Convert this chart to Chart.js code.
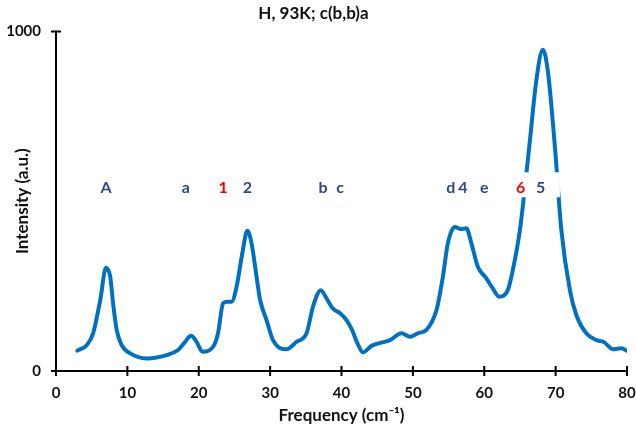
<!DOCTYPE html>
<html><head><meta charset="utf-8">
<script src="https://cdn.jsdelivr.net/npm/chart.js@4.4.0/dist/chart.umd.min.js"></script>
<style>html,body{margin:0;padding:0;background:#fff}#wrap{width:636px;height:430px}</style>
</head><body><div id="wrap"><canvas id="c" width="636" height="430"></canvas></div>
<script>
const freq = [3.0,4.3,5.2,6.2,7.0,7.6,8.0,8.5,9.2,10.4,12.7,14.1,15.5,17.1,18.1,18.9,19.7,20.5,22.0,22.7,23.4,23.9,24.6,25.3,26.1,26.8,27.4,28.1,28.6,29.5,30.4,32.3,33.7,35.1,36.0,37.1,37.9,38.8,39.8,40.7,41.5,42.1,43.0,44.2,46.8,48.4,49.6,50.7,51.9,53.3,54.2,54.9,55.9,56.7,57.5,58.2,59.1,60.3,61.2,62.1,63.3,64.0,65.0,65.7,66.4,67.3,68.2,68.9,69.9,70.8,72.0,72.9,74.3,75.7,76.7,78.1,79.2,80.0];
const intensity = [60,76,111,209,304,277,199,121,76,52,37,40,47,62,86,104,86,57,71,111,199,204,204,248,346,413,376,277,209,150,91,64,86,111,189,238,214,184,170,150,120,88,55,74,91,111,101,111,121,179,277,376,424,418,420,376,307,273,243,219,238,297,415,542,679,856,946,885,660,415,238,165,111,91,86,64,67,60];
const xTicks = [0,10,20,30,40,50,60,70,80];
const yTicks = [0,1000];
const peakLabels = ['A','a','1','2','b','c','d','4','e','6','5'];
const peakLabelX = [7.0,18.2,23.4,26.8,37.4,39.8,55.3,57.0,60.0,65.1,67.9];
const peakLabelColor = ['#2E4A8C','#2E4A8C','#FF0000','#2E4A8C','#2E4A8C','#2E4A8C','#2E4A8C','#2E4A8C','#2E4A8C','#FF0000','#2E4A8C'];
const peakLabelY = 538;

const FONT = 'Lato, "Open Sans", sans-serif';

const crossTicks = {
  id:'crossTicks',
  afterDatasetsDraw(chart){
    const ctx = chart.ctx, xs = chart.scales.x, ys = chart.scales.y;
    ctx.save();
    ctx.fillStyle = '#fff';
    const bx1 = xs.getPixelForValue(64.3), bx2 = xs.getPixelForValue(70.6);
    const by = ys.getPixelForValue(peakLabelY);
    ctx.fillRect(bx1, by-16, bx2-bx1, 25);
    ctx.font = 'bold 16px ' + FONT;
    ctx.textAlign = 'center'; ctx.textBaseline = 'middle';
    peakLabels.forEach((t,i)=>{
      ctx.fillStyle = peakLabelColor[i];
      ctx.fillText(t, xs.getPixelForValue(peakLabelX[i]), by);
    });
    ctx.restore();
  },
  afterDraw(chart){
    const ctx = chart.ctx, xs = chart.scales.x, ys = chart.scales.y;
    const a = chart.chartArea;
    ctx.save();
    ctx.strokeStyle = '#000'; ctx.lineWidth = 2;
    ctx.beginPath();
    ctx.moveTo(a.left, ys.getPixelForValue(1000)); ctx.lineTo(a.left, a.bottom);
    ctx.lineTo(xs.getPixelForValue(80), a.bottom);
    xTicks.forEach(v=>{ const p = xs.getPixelForValue(v); ctx.moveTo(p, a.bottom-5); ctx.lineTo(p, a.bottom+5); });
    yTicks.forEach(v=>{ const p = ys.getPixelForValue(v); ctx.moveTo(a.left-5, p); ctx.lineTo(a.left+5, p); });
    ctx.stroke();
    ctx.restore();
  }
};

new Chart(document.getElementById('c'), {
  type:'line',
  data:{ datasets:[{
    data: freq.map((x,i)=>({x, y:intensity[i]})),
    borderColor:'#0070C0', borderWidth:4, pointRadius:0, fill:false,
    cubicInterpolationMode:'monotone', borderCapStyle:'round', borderJoinStyle:'round'
  }]},
  options:{
    responsive:false, animation:false, devicePixelRatio:1,
    layout:{padding:{left:0,right:9,top:0,bottom:0}},
    plugins:{
      legend:{display:false}, tooltip:{enabled:false},
      title:{display:true, text:'H, 93K; c(b,b)a', color:'#111', font:{family:FONT, size:17, weight:'bold'}, padding:{top:3,bottom:8}}
    },
    scales:{
      x:{ type:'linear', min:0, max:80,
        afterFit(s){ s.height = 59; s.paddingRight = 0; s.paddingLeft = 0; },
        afterBuildTicks(s){ s.ticks = xTicks.map(v=>({value:v})); },
        grid:{display:false, drawTicks:false}, border:{display:false},
        ticks:{color:'#111', padding:13, font:{family:FONT, size:15, weight:'bold'}, maxRotation:0, autoSkip:false, callback:v=>String(v)},
        title:{display:true, text:'Frequency (cm\u207B\u00B9)', color:'#111', font:{family:FONT, size:17, weight:'bold'}, padding:{top:0,bottom:4}}
      },
      y:{ type:'linear', min:0, max:1000,
        afterFit(s){ s.width = 56; },
        afterBuildTicks(s){ s.ticks = yTicks.map(v=>({value:v})); },
        grid:{display:false, drawTicks:false}, border:{display:false},
        ticks:{color:'#111', padding:15, font:{family:FONT, size:15, weight:'bold'}, callback:v=>String(v)},
        title:{display:true, text:'Intensity (a.u.)', color:'#111', font:{family:FONT, size:17, weight:'bold'}, padding:{top:12,bottom:0}}
      }
    }
  },
  plugins:[crossTicks]
});
</script></body></html>
